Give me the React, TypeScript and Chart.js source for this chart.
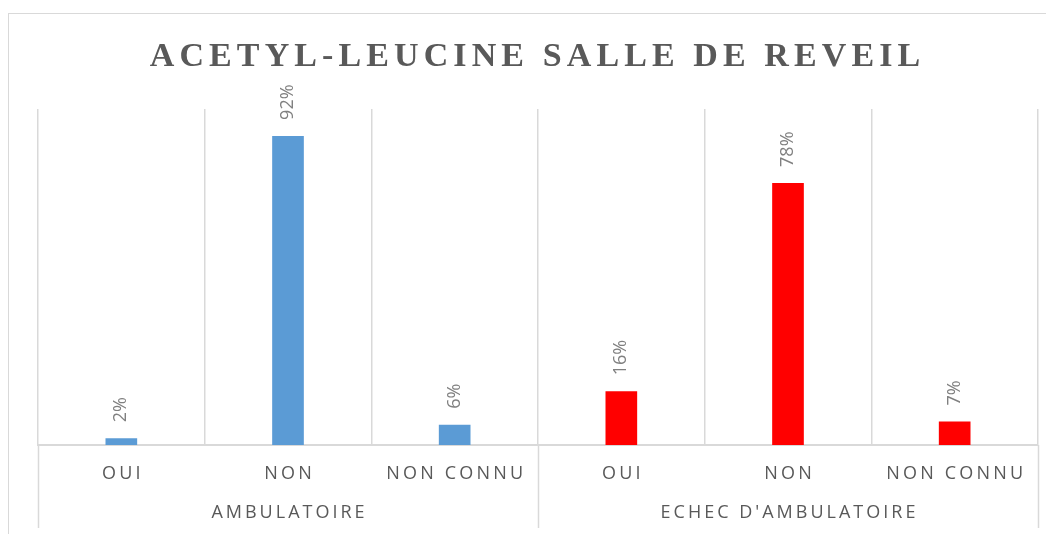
import React, { useEffect, useRef } from "react";
import { Chart, registerables } from "chart.js";

Chart.register(...registerables);

const TITLE = "ACETYL-LEUCINE SALLE DE REVEIL";
const categories = ["OUI", "NON", "NON CONNU", "OUI", "NON", "NON CONNU"];
const groups = ["AMBULATOIRE", "ECHEC D'AMBULATOIRE"];
const groupSizes = [3, 3];
const groupColors = ["#5B9BD5", "#FF0000"];
const values = [0.02, 0.92, 0.06, 0.16, 0.78, 0.07];

const GRID = "#D9D9D9";
const TEXT = "#595959";
const LABEL = "#808080";

function drawSpaced(ctx: CanvasRenderingContext2D, text: string, cx: number, y: number, spacing: number) {
  const chars = Array.from(text);
  const widths = chars.map((c) => ctx.measureText(c).width);
  const total = widths.reduce((a, b) => a + b, 0) + spacing * (chars.length - 1);
  let x = cx - total / 2;
  ctx.textAlign = "left";
  chars.forEach((c, i) => {
    ctx.fillText(c, x, y);
    x += widths[i] + spacing;
  });
}

const barColors: string[] = [];
groupSizes.forEach((n, g) => {
  for (let i = 0; i < n; i++) barColors.push(groupColors[g]);
});

const overlayPlugin = {
  id: "overlay",
  afterDraw(chart: any) {
    const ctx: CanvasRenderingContext2D = chart.ctx;
    const area = chart.chartArea;
    const xs = chart.scales.x;
    const half = (xs.getPixelForValue(1) - xs.getPixelForValue(0)) / 2;
    ctx.save();

    // title
    ctx.fillStyle = TEXT;
    ctx.font = "bold 34px 'Liberation Serif', 'Times New Roman', serif";
    ctx.textBaseline = "alphabetic";
    drawSpaced(ctx, TITLE, (area.left + area.right) / 2 - 3, 52, 5.1);

    // group separator lines extending below axis
    ctx.strokeStyle = GRID;
    ctx.lineWidth = 1.5;
    let idx = 0;
    const bounds = [0];
    groupSizes.forEach((n) => {
      idx += n;
      bounds.push(idx);
    });
    bounds.forEach((b) => {
      const x = Math.round(xs.getPixelForValue(b) - half) + 0.5;
      ctx.beginPath();
      ctx.moveTo(x, area.bottom);
      ctx.lineTo(x, area.bottom + 83);
      ctx.stroke();
    });

    // category labels
    ctx.fillStyle = TEXT;
    ctx.font = "18px 'Open Sans', sans-serif";
    ctx.textBaseline = "middle";
    categories.forEach((c, i) => {
      drawSpaced(ctx, c, xs.getPixelForValue(i), area.bottom + 29, 3.2);
    });

    // group labels
    let start = 0;
    groups.forEach((g, gi) => {
      const n = groupSizes[gi];
      const cx = (xs.getPixelForValue(start) + xs.getPixelForValue(start + n - 1)) / 2;
      drawSpaced(ctx, g, cx, area.bottom + 68, 3);
      start += n;
    });

    // data labels (rotated)
    const meta = chart.getDatasetMeta(0);
    ctx.fillStyle = LABEL;
    ctx.font = "18px 'Open Sans', sans-serif";
    meta.data.forEach((bar: any, i: number) => {
      const text = Math.round(values[i] * 100) + "%";
      ctx.save();
      ctx.translate(bar.x, bar.y - 16);
      ctx.rotate(-Math.PI / 2);
      ctx.textAlign = "left";
      ctx.textBaseline = "middle";
      ctx.fillText(text, 0, 0);
      ctx.restore();
    });

    ctx.restore();
  },
};

export default function App() {
  const ref = useRef<HTMLCanvasElement>(null);
  useEffect(() => {
    if (!ref.current) return;
    const chart = new Chart(ref.current, {
      type: "bar",
      data: {
        labels: categories,
        datasets: [
          {
            data: values,
            backgroundColor: barColors,
            borderWidth: 0,
            barPercentage: 0.19,
            categoryPercentage: 1,
          },
        ],
      },
      options: {
        animation: false,
        responsive: false,
        maintainAspectRatio: false,
        layout: { padding: { left: 29, right: 16, top: 95, bottom: 89 } },
        plugins: {
          legend: { display: false },
          title: { display: false },
          tooltip: { enabled: false },
        },
        scales: {
          x: {
            offset: true,
            grid: { offset: true, color: GRID, lineWidth: 1.5, drawTicks: false },
            border: { display: true, color: GRID, width: 2 },
            ticks: { display: false },
          },
          y: {
            display: false,
            min: 0,
            max: 1,
          },
        },
      },
      plugins: [overlayPlugin],
    });
    return () => chart.destroy();
  }, []);

  return (
    <div style={{ width: 1046, height: 526, overflow: "hidden", position: "relative" }}>
      <div
        style={{
          marginTop: 5,
          borderTop: "1px solid #D9D9D9",
          borderLeft: "1px solid #D9D9D9",
          width: 1045,
          height: 520,
          background: "#fff",
        }}
      >
        <canvas ref={ref} width={1045} height={520} style={{ display: "block" }} />
      </div>
    </div>
  );
}
